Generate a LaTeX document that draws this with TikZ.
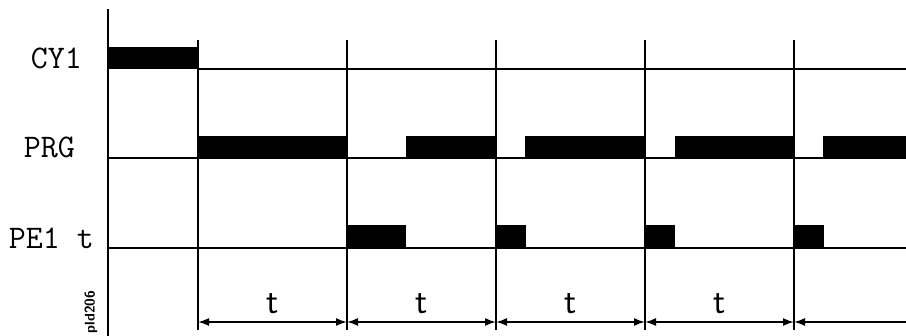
\documentclass[tikz,border=0pt]{standalone}
\usepackage{fontspec}
\usetikzlibrary{arrows.meta}

\begin{document}
\begin{tikzpicture}[x=1pt, y=-1pt,
  line width=1.7pt,
  sig/.style={anchor=base west, inner sep=0pt,
              font=\fontsize{33}{36}\selectfont\ttfamily},
  per/.style={anchor=base, inner sep=0pt,
              font=\fontsize{36}{40}\selectfont\sffamily},
  bar/.style={fill=black, draw=none},
  dim/.style={{Latex[length=11pt,width=8pt]}-{Latex[length=11pt,width=8pt]}}]
  \useasboundingbox (0,0) rectangle (906,336);
  % signal names
  \node[sig] (cy1) at (30,69)  {CY1};
  \node[sig] (prg) at (23,158) {PRG};
  \node[sig] (pe1) at (8,249)  {PE1 t};
  \node[rotate=90, inner sep=0pt, font=\fontsize{14}{16}\selectfont\sffamily\bfseries]
    (code) at (91,312) {pld206};
  % axis and base lines
  \draw (108,9) -- (108,336);
  \draw (198,69) -- (906,69);
  \draw (108,158) -- (906,158);
  \draw (108,248) -- (906,248);
  % pulses
  \fill[bar] (108,47) rectangle (198,69);
  \foreach \a/\b in {198/347, 406/496, 525/645, 675/794, 823/906}
    \fill[bar] (\a,136) rectangle (\b,158);
  \foreach \a/\b in {347/406, 496/526, 645/675, 794/824}
    \fill[bar] (\a,225) rectangle (\b,248);
  % cycle marks
  \foreach \x [count=\i] in {198,347,496,645,794} {
    \draw (\x,40) -- (\x,330);
    \coordinate (d\i) at (\x,322);
  }
  \coordinate (dend) at (906,322);
  \foreach \i [evaluate=\i as \j using int(\i+1)] in {1,...,4} {
    \draw[dim] (d\i) -- (d\j) node[per, midway, above=7pt] (t\i) {t};
  }
  \draw[{Latex[length=11pt,width=8pt]}-] (d5) -- (dend);
\end{tikzpicture}
\end{document}
